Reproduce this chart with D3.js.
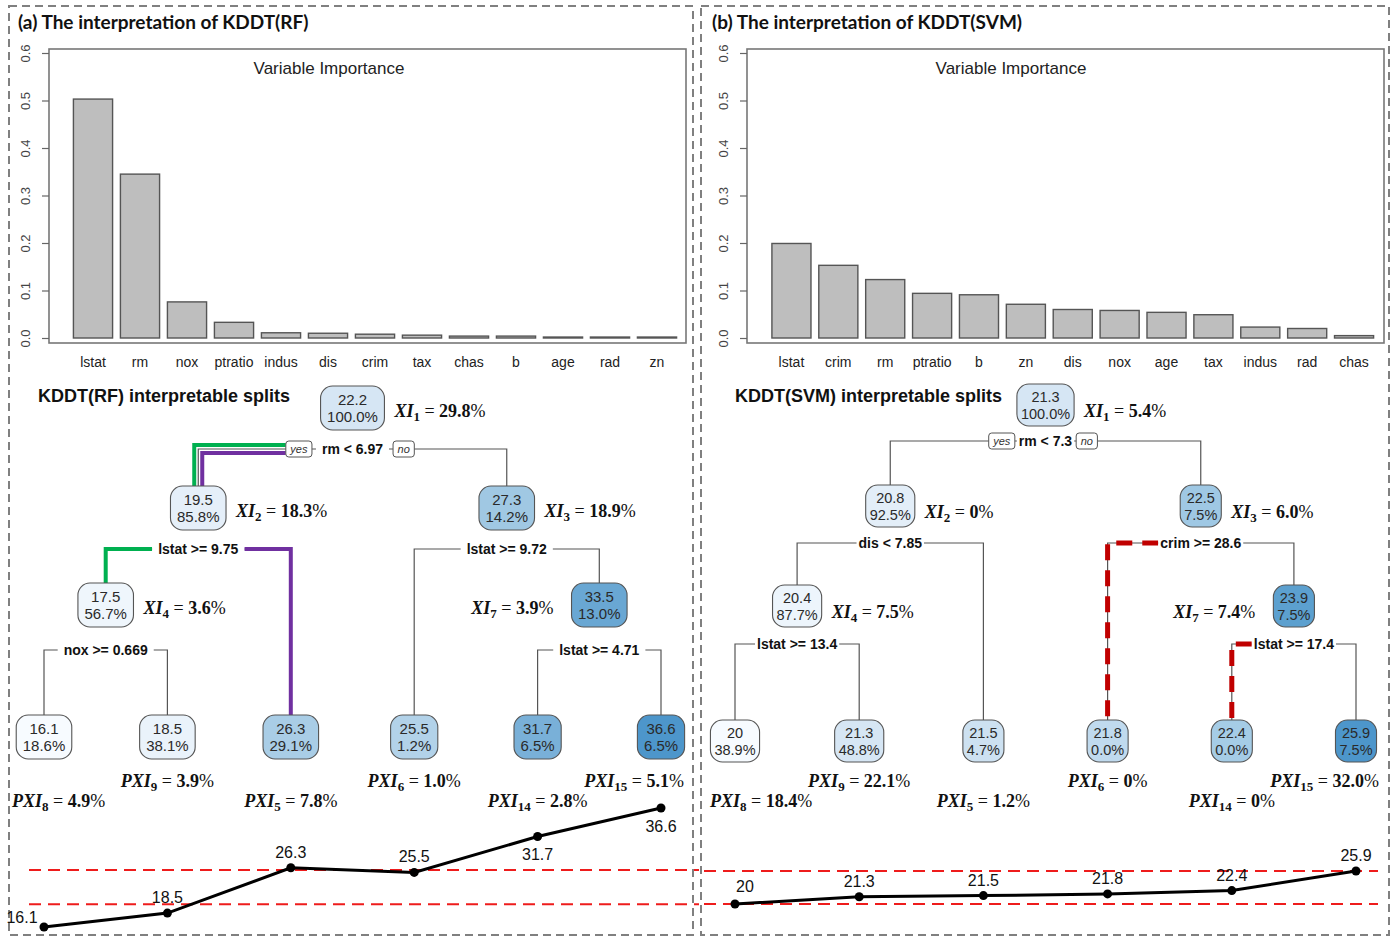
<!DOCTYPE html>
<html>
<head>
<meta charset="utf-8">
<script src="https://cdn.jsdelivr.net/npm/d3@7"></script>
<style>
  body { margin: 0; background: #fff; }
  svg { display: block; }
</style>
</head>
<body>
<svg id="fig" width="1394" height="939"></svg>
<script>
// ---------- variable importance ----------
const rfVars = ["lstat", "rm", "nox", "ptratio", "indus", "dis", "crim", "tax", "chas", "b", "age", "rad", "zn"];
const rfImportance = [0.503, 0.345, 0.076, 0.033, 0.011, 0.010, 0.008, 0.006, 0.004, 0.004, 0.002, 0.002, 0.002];
const svmVars = ["lstat", "crim", "rm", "ptratio", "b", "zn", "dis", "nox", "age", "tax", "indus", "rad", "chas"];
const svmImportance = [0.199, 0.153, 0.123, 0.094, 0.091, 0.071, 0.060, 0.058, 0.054, 0.049, 0.023, 0.020, 0.005];
const importanceTicks = [0, 0.1, 0.2, 0.3, 0.4, 0.5, 0.6];

// ---------- KDDT(RF) tree ----------
const rfNodeIds = [1, 2, 3, 4, 5, 6, 7, 8, 9, 14, 15];
const rfNodeMeans = [22.2, 19.5, 27.3, 17.5, 26.3, 25.5, 33.5, 16.1, 18.5, 31.7, 36.6];
const rfNodeShares = [100.0, 85.8, 14.2, 56.7, 29.1, 1.2, 13.0, 18.6, 38.1, 6.5, 6.5];
const rfSplitNodes = [1, 2, 3, 4, 7];
const rfSplitRules = ["rm < 6.97", "lstat >= 9.75", "lstat >= 9.72", "nox >= 0.669", "lstat >= 4.71"];
const rfXI = [29.8, 18.3, 18.9, 3.6, 3.9];
const rfLeafIds = [8, 9, 5, 6, 14, 15];
const rfPXI = [4.9, 3.9, 7.8, 1.0, 2.8, 5.1];

// ---------- KDDT(SVM) tree ----------
const svmNodeIds = [1, 2, 3, 4, 5, 6, 7, 8, 9, 14, 15];
const svmNodeMeans = [21.3, 20.8, 22.5, 20.4, 21.5, 21.8, 23.9, 20, 21.3, 22.4, 25.9];
const svmNodeShares = [100.0, 92.5, 7.5, 87.7, 4.7, 0.0, 7.5, 38.9, 48.8, 0.0, 7.5];
const svmSplitNodes = [1, 2, 3, 4, 7];
const svmSplitRules = ["rm < 7.3", "dis < 7.85", "crim >= 28.6", "lstat >= 13.4", "lstat >= 17.4"];
const svmXI = [5.4, 0, 6.0, 7.5, 7.4];
const svmLeafIds = [8, 9, 5, 6, 14, 15];
const svmPXI = [18.4, 22.1, 1.2, 0, 0, 32.0];

// highlighted decision paths (node id sequences)
const rfPaths = [[1, 2, 4], [1, 2, 5]];
const svmPaths = [[3, 6], [7, 14]];

// ---------- styling ----------
const SANS = "'Liberation Sans', Arial, Helvetica, sans-serif";
const SERIF = "'Liberation Serif', 'Times New Roman', serif";
const HEAD = "Lato, 'Open Sans', sans-serif";

const svg = d3.select("#fig");

const panels = [
  {
    title: "(a) The interpretation of KDDT(RF)", treeTitle: "KDDT(RF) interpretable splits",
    frame: [9, 6, 684, 929], titlePos: [18, 29], treeTitlePos: [38, 402],
    vars: rfVars, imp: rfImportance, plotBox: [49, 49, 686, 343], barRange: [69.5, 680.5], impTitleX: 329,
    ids: rfNodeIds, means: rfNodeMeans, shares: rfNodeShares, splitNodes: rfSplitNodes,
    rules: rfSplitRules, xi: rfXI, leaves: rfLeafIds, pxi: rfPXI,
    paths: rfPaths, pathColors: ["#00b050", "#7030a0"], pathWidth: 4, pathDash: null,
    leafRange: [44, 661], levelY: [408, 508, 605, 737], splitY: [449, 549, 650],
    nodeFont: 15, boxPad: 13, boxH: 44, xiDy: 9, yesGap: 10, labelPad: 6,
    pxiBounds: [12, 684], pxiY: [807, 787],
    colorDomain: [16.1, 22.2, 26.3, 36.6],
    colorRange: ["#f7fbff", "#d6e6f4", "#a9cde6", "#4d96cb"],
    lineDomain: [16.1, 36.6], lineRange: [927, 808], refX: [29, 699],
    labelPlace: ["left", "above", "above", "above", "below", "below"]
  },
  {
    title: "(b) The interpretation of KDDT(SVM)", treeTitle: "KDDT(SVM) interpretable splits",
    frame: [701, 6, 688, 929], titlePos: [712, 29], treeTitlePos: [735, 402],
    vars: svmVars, imp: svmImportance, plotBox: [747, 49, 1384, 343], barRange: [768, 1377.5], impTitleX: 1011,
    ids: svmNodeIds, means: svmNodeMeans, shares: svmNodeShares, splitNodes: svmSplitNodes,
    rules: svmSplitRules, xi: svmXI, leaves: svmLeafIds, pxi: svmPXI,
    paths: svmPaths, pathColors: ["#c00000", "#c00000"], pathWidth: 5, pathDash: "16,10",
    leafRange: [735, 1356], levelY: [405, 506, 606, 741], splitY: [441, 543, 644],
    nodeFont: 14.5, boxPad: 8, boxH: 42, xiDy: 12, yesGap: 4, labelPad: 2,
    pxiBounds: [710, 1379], pxiY: [807, 787],
    colorDomain: [20, 21.3, 22.4, 23.5, 25.9],
    colorRange: ["#f7fbff", "#d6e6f4", "#a5cce6", "#5fa2d0", "#4d96cb"],
    lineDomain: [20, 25.9], lineRange: [904, 871], refX: [704, 1378],
    labelPlace: ["aboveRight", "above", "above", "above", "above", "above"]
  }
];

const svmLeafMeans = svmLeafIds.map(id => svmNodeMeans[svmNodeIds.indexOf(id)]);
const referenceBand = d3.extent(svmLeafMeans);   // range of KDDT(SVM) leaf predictions

const fmt1 = d3.format(".1f");
const fmtPct = v => (v === 0 ? "0" : fmt1(v));

function textWidth(str, font, size, weight, style) {
  const t = svg.append("text").attr("font-family", font).attr("font-size", size)
    .attr("font-weight", weight || "normal").attr("font-style", style || "normal").text(str);
  const w = t.node().getComputedTextLength();
  t.remove();
  return w;
}

// "XI_k = v%" style label in math type
function mathLabel(g, x, y, prefix, sub, value, anchor) {
  const t = g.append("text").attr("x", x).attr("y", y).attr("text-anchor", anchor)
    .attr("font-family", SERIF).attr("font-size", 18).attr("fill", "#111");
  t.append("tspan").attr("font-weight", "bold").attr("font-style", "italic").text(prefix);
  t.append("tspan").attr("font-weight", "bold").attr("font-size", 13).attr("dy", 4).text(sub);
  t.append("tspan").attr("dy", -4).text(" = ");
  t.append("tspan").attr("font-weight", "bold").text(fmtPct(value));
  t.append("tspan").text("%");
  return t;
}

panels.forEach(p => {
  const g = svg.append("g");

  // dashed panel frame
  g.append("rect").attr("x", p.frame[0]).attr("y", p.frame[1]).attr("width", p.frame[2]).attr("height", p.frame[3])
    .attr("fill", "none").attr("stroke", "#808080").attr("stroke-width", 2).attr("stroke-dasharray", "8,5");

  g.append("text").attr("x", p.titlePos[0]).attr("y", p.titlePos[1])
    .attr("font-family", HEAD).attr("font-weight", "bold").attr("font-size", 19).attr("fill", "#111")
    .text(p.title);

  // ----- variable importance bar chart -----
  const [bx0, by0, bx1, by1] = p.plotBox;
  const x = d3.scaleBand().domain(p.vars).range(p.barRange).paddingInner(1 / 6).paddingOuter(1 / 12);
  const y = d3.scaleLinear().domain([0, 0.6]).range([338, 53]);

  g.selectAll("rect.bar").data(p.vars).join("rect").attr("class", "bar")
    .attr("x", d => x(d)).attr("width", x.bandwidth())
    .attr("y", (d, i) => y(p.imp[i])).attr("height", (d, i) => y(0) - y(p.imp[i]))
    .attr("fill", "#bebebe").attr("stroke", "#555").attr("stroke-width", 1.4);

  g.append("rect").attr("x", bx0).attr("y", by0).attr("width", bx1 - bx0).attr("height", by1 - by0)
    .attr("fill", "none").attr("stroke", "#777").attr("stroke-width", 1.6);

  const yAxis = g.append("g").attr("transform", `translate(${bx0},0)`)
    .call(d3.axisLeft(y).tickValues(importanceTicks).tickSize(7).tickFormat(d3.format(".1f")));
  yAxis.select(".domain").remove();
  yAxis.selectAll(".tick line").attr("stroke", "#666").attr("stroke-width", 1.2);
  yAxis.selectAll(".tick text")
    .attr("transform", "rotate(-90)").attr("x", 0).attr("y", -24).attr("dy", "0.35em")
    .attr("text-anchor", "middle").attr("font-family", SANS).attr("font-size", 13).attr("fill", "#444");

  g.selectAll("text.xlab").data(p.vars).join("text").attr("class", "xlab")
    .attr("x", d => x(d) + x.bandwidth() / 2).attr("y", 367).attr("text-anchor", "middle")
    .attr("font-family", SANS).attr("font-size", 14).attr("fill", "#222").text(d => d);

  g.append("text").attr("x", p.impTitleX).attr("y", 74).attr("text-anchor", "middle")
    .attr("font-family", SANS).attr("font-size", 17).attr("fill", "#222").text("Variable Importance");

  // ----- decision tree -----
  g.append("text").attr("x", p.treeTitlePos[0]).attr("y", p.treeTitlePos[1])
    .attr("font-family", SANS).attr("font-weight", "bold").attr("font-size", 18).attr("fill", "#111")
    .text(p.treeTitle);

  const idx = new Map(p.ids.map((id, i) => [id, i]));
  const isLeaf = id => p.leaves.includes(id);
  const leafX = d3.scalePoint().domain(p.leaves).range(p.leafRange);
  const color = d3.scaleLinear().domain(p.colorDomain).range(p.colorRange).clamp(true);
  const depth = id => Math.floor(Math.log2(id));

  const pos = new Map();
  function place(id) {
    if (pos.has(id)) return pos.get(id);
    let pt;
    if (isLeaf(id)) pt = { x: leafX(id), y: p.levelY[3] };
    else {
      const a = place(2 * id), b = place(2 * id + 1);
      pt = { x: (a.x + b.x) / 2, y: p.levelY[depth(id)] };
    }
    pos.set(id, pt);
    return pt;
  }
  place(1);

  const boxW = new Map(p.ids.map((id, i) => {
    const w = Math.max(textWidth(String(p.means[i]), SANS, p.nodeFont),
                       textWidth(fmt1(p.shares[i]) + "%", SANS, p.nodeFont));
    return [id, w + p.boxPad];
  }));
  const topOf = id => pos.get(id).y - p.boxH / 2;

  // split label extents
  const splitInfo = new Map();
  p.splitNodes.forEach((id, i) => {
    const w = textWidth(p.rules[i], SANS, 14, "bold");
    const cx = pos.get(id).x;
    const info = { rule: p.rules[i], cx, y: p.splitY[depth(id)], left: cx - w / 2, right: cx + w / 2, w };
    if (id === 1) {
      const yw = textWidth("yes", SANS, 11, "normal", "italic") + 9;
      const nw = textWidth("no", SANS, 11, "normal", "italic") + 9;
      info.yes = { x: info.left - p.yesGap - yw, w: yw };
      info.no = { x: info.right + p.yesGap, w: nw };
      info.outerLeft = info.yes.x;
      info.outerRight = info.no.x + nw;
    } else {
      info.outerLeft = info.left - p.labelPad;
      info.outerRight = info.right + p.labelPad;
    }
    splitInfo.set(id, info);
  });

  // gray connectors
  const edges = g.append("g").attr("fill", "none").attr("stroke", "#555").attr("stroke-width", 1.2);
  p.splitNodes.forEach(id => {
    const s = splitInfo.get(id);
    const L = pos.get(2 * id), R = pos.get(2 * id + 1);
    edges.append("path").attr("d",
      `M${L.x},${topOf(2 * id)}V${s.y}H${R.x}V${topOf(2 * id + 1)}`);
  });

  // highlighted paths
  const edgeCount = new Map();
  p.paths.forEach(path => d3.pairs(path).forEach(([a, b]) => {
    const k = a + "-" + b; edgeCount.set(k, (edgeCount.get(k) || 0) + 1);
  }));
  p.paths.forEach((path, pi) => {
    d3.pairs(path).forEach(([a, b]) => {
      const s = splitInfo.get(a);
      const shared = edgeCount.get(a + "-" + b) > 1;
      const off = shared ? (pi === 0 ? -4 : 4) : 0;
      const leftChild = b === 2 * a;
      const startX = leftChild ? s.outerLeft : s.outerRight;
      const cx = pos.get(b).x + off;
      g.append("path")
        .attr("d", `M${startX},${s.y + off}H${cx}V${topOf(b)}`)
        .attr("fill", "none").attr("stroke", p.pathColors[pi]).attr("stroke-width", p.pathWidth)
        .attr("stroke-dasharray", p.pathDash);
    });
  });

  // split labels
  p.splitNodes.forEach(id => {
    const s = splitInfo.get(id);
    g.append("rect").attr("x", s.left - p.labelPad).attr("y", s.y - 8).attr("width", s.w + 2 * p.labelPad)
      .attr("height", 16).attr("fill", "#fff");
    g.append("text").attr("x", s.cx).attr("y", s.y).attr("dy", "0.36em").attr("text-anchor", "middle")
      .attr("font-family", SANS).attr("font-weight", "bold").attr("font-size", 14).attr("fill", "#111")
      .text(s.rule);
    if (s.yes) {
      [["yes", s.yes], ["no", s.no]].forEach(([lab, bx]) => {
        g.append("rect").attr("x", bx.x).attr("y", s.y - 8).attr("width", bx.w).attr("height", 16)
          .attr("rx", 3).attr("fill", "#fff").attr("stroke", "#555").attr("stroke-width", 1);
        g.append("text").attr("x", bx.x + bx.w / 2).attr("y", s.y).attr("dy", "0.36em").attr("text-anchor", "middle")
          .attr("font-family", SANS).attr("font-style", "italic").attr("font-size", 11).attr("fill", "#333").text(lab);
      });
    }
  });

  // node boxes
  p.ids.forEach((id, i) => {
    const pt = pos.get(id), w = boxW.get(id);
    g.append("rect").attr("x", pt.x - w / 2).attr("y", pt.y - p.boxH / 2).attr("width", w).attr("height", p.boxH)
      .attr("rx", 12).attr("fill", color(p.means[i])).attr("stroke", "#555").attr("stroke-width", 1.1);
    g.append("text").attr("x", pt.x).attr("y", pt.y - 3).attr("text-anchor", "middle")
      .attr("font-family", SANS).attr("font-size", p.nodeFont).attr("fill", "#2a2a2a").text(String(p.means[i]));
    g.append("text").attr("x", pt.x).attr("y", pt.y + 14).attr("text-anchor", "middle")
      .attr("font-family", SANS).attr("font-size", p.nodeFont).attr("fill", "#2a2a2a").text(fmt1(p.shares[i]) + "%");
  });

  // XI labels beside internal nodes (node 7 on its left side)
  p.splitNodes.forEach((id, i) => {
    const pt = pos.get(id), w = boxW.get(id);
    if (id === 7) mathLabel(g, pt.x - w / 2 - 18, pt.y + p.xiDy, "XI", String(id), p.xi[i], "end");
    else mathLabel(g, pt.x + w / 2 + 10, pt.y + p.xiDy, "XI", String(id), p.xi[i], "start");
  });

  // PXI labels under leaves, alternating rows
  p.leaves.forEach((id, i) => {
    const t = mathLabel(g, 0, p.pxiY[i % 2], "PXI", String(id), p.pxi[i], "start");
    const w = t.node().getComputedTextLength();
    let x0 = leafX(id) - w / 2;
    x0 = Math.max(p.pxiBounds[0], Math.min(p.pxiBounds[1] - w, x0));
    t.attr("x", x0);
  });

  // ----- leaf prediction line -----
  const leafMeans = p.leaves.map(id => p.means[idx.get(id)]);
  const ly = d3.scaleLinear().domain(p.lineDomain).range(p.lineRange);

  g.selectAll("line.ref").data(referenceBand).join("line").attr("class", "ref")
    .attr("x1", p.refX[0]).attr("x2", p.refX[1]).attr("y1", d => ly(d)).attr("y2", d => ly(d))
    .attr("stroke", "#ee1c1c").attr("stroke-width", 2).attr("stroke-dasharray", "12,7");

  const line = d3.line().x((d, i) => leafX(p.leaves[i])).y(d => ly(d));
  g.append("path").datum(leafMeans).attr("d", line).attr("fill", "none")
    .attr("stroke", "#000").attr("stroke-width", 3);
  g.selectAll("circle.pt").data(leafMeans).join("circle").attr("class", "pt")
    .attr("cx", (d, i) => leafX(p.leaves[i])).attr("cy", d => ly(d)).attr("r", 4.5).attr("fill", "#000");

  const offsets = {
    left: { dx: -22, dy: -4 }, above: { dx: 0, dy: -10 }, below: { dx: 0, dy: 24 }, aboveRight: { dx: 10, dy: -12 }
  };
  g.selectAll("text.val").data(leafMeans).join("text").attr("class", "val")
    .attr("x", (d, i) => leafX(p.leaves[i]) + offsets[p.labelPlace[i]].dx)
    .attr("y", (d, i) => ly(d) + offsets[p.labelPlace[i]].dy)
    .attr("text-anchor", "middle").attr("font-family", SANS).attr("font-size", 16).attr("fill", "#111")
    .text(d => String(d));
});
</script>
</body>
</html>
